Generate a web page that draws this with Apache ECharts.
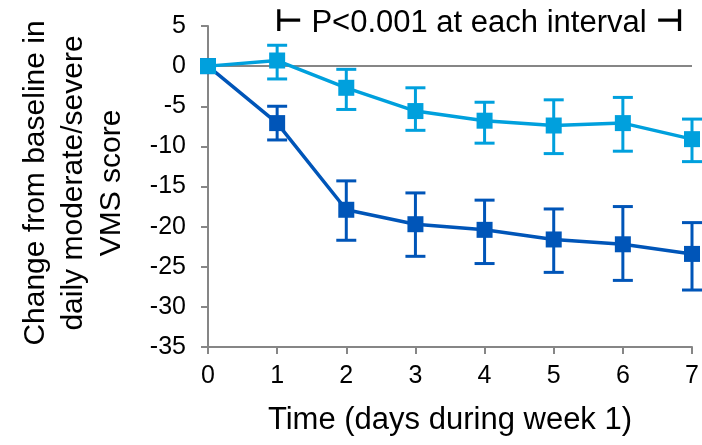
<!DOCTYPE html>
<html>
<head>
<meta charset="utf-8">
<script src="https://cdn.jsdelivr.net/npm/echarts@6/dist/echarts.min.js"></script>
<style>
html, body { margin: 0; padding: 0; background: #fff; }
#chart { width: 702px; height: 445px; }
</style>
</head>
<body>
<div id="chart"></div>
<script>
var days = [0, 1, 2, 3, 4, 5, 6, 7];
var yTicks = [-35, -30, -25, -20, -15, -10, -5, 0, 5];

// light blue group
var lightMean = [0, 0.7, -2.7, -5.6, -6.8, -7.4, -7.1, -9.1];
var lightHigh = [0, 2.6, -0.4, -2.7, -4.5, -4.2, -3.9, -6.6];
var lightLow = [0, -1.6, -5.4, -8.0, -9.6, -10.9, -10.6, -11.9];

// dark blue group
var darkMean = [0, -7.1, -17.9, -19.7, -20.4, -21.6, -22.2, -23.4];
var darkHigh = [0, -5.0, -14.3, -15.8, -16.7, -17.8, -17.5, -19.5];
var darkLow = [0, -9.2, -21.7, -23.7, -24.6, -25.7, -26.7, -27.9];

var lightColor = '#00a0dd';
var darkColor = '#0055b8';
var axisColor = '#868686';
var font = 'Liberation Sans, Arial, sans-serif';

function pairs(xs, ys) {
    var out = [];
    for (var i = 0; i < xs.length; i++) out.push([xs[i], ys[i]]);
    return out;
}
function errData(xs, lo, hi) {
    var out = [];
    for (var i = 1; i < xs.length; i++) out.push([xs[i], lo[i], hi[i]]);
    return out;
}
function errorBars(color) {
    return function (params, api) {
        var x = api.value(0);
        var lo = api.coord([x, api.value(1)]);
        var hi = api.coord([x, api.value(2)]);
        var half = 10;
        var style = { stroke: color, lineWidth: 3 };
        return {
            type: 'group',
            children: [
                { type: 'line', shape: { x1: lo[0], y1: lo[1], x2: hi[0], y2: hi[1] }, style: style },
                { type: 'line', shape: { x1: lo[0] - half, y1: lo[1], x2: lo[0] + half, y2: lo[1] }, style: style },
                { type: 'line', shape: { x1: hi[0] - half, y1: hi[1], x2: hi[0] + half, y2: hi[1] }, style: style }
            ]
        };
    };
}

var chart = echarts.init(document.getElementById('chart'), null, { renderer: 'canvas' });
chart.setOption({
    animation: false,
    textStyle: { fontFamily: font },
    grid: { left: 208, right: 10, top: 26, bottom: 98 },
    xAxis: {
        type: 'value',
        min: days[0],
        max: days[days.length - 1],
        interval: 1,
        name: 'Time (days during week 1)',
        nameLocation: 'middle',
        nameGap: 58,
        nameTextStyle: { fontSize: 31, color: '#000', fontFamily: font },
        axisLine: { onZero: false, lineStyle: { color: axisColor, width: 2 } },
        axisTick: { show: true, length: 7, lineStyle: { color: axisColor, width: 2 } },
        axisLabel: { fontSize: 25, color: '#000', margin: 17, fontFamily: font },
        splitLine: { show: false }
    },
    yAxis: {
        type: 'value',
        min: yTicks[0],
        max: yTicks[yTicks.length - 1],
        interval: 5,
        axisLine: { show: true, lineStyle: { color: axisColor, width: 2 } },
        axisTick: { show: true, length: 7, lineStyle: { color: axisColor, width: 2 } },
        axisLabel: { fontSize: 25, color: '#000', margin: 22, fontFamily: font },
        splitLine: { show: false }
    },
    graphic: [
        {
            type: 'text',
            x: 74,
            y: 183,
            rotation: Math.PI / 2,
            style: {
                text: 'Change from baseline in\ndaily moderate/severe\nVMS score',
                font: '30px ' + font,
                fill: '#000',
                align: 'center',
                verticalAlign: 'middle',
                lineHeight: 38
            }
        },
        {
            type: 'text',
            x: 479,
            y: 23,
            style: {
                text: '{b|\u22a2} P<0.001 at each interval {b|\u22a3}',
                font: '31px ' + font,
                fill: '#000',
                align: 'center',
                verticalAlign: 'middle',
                rich: {
                    b: { fontSize: 31, fontWeight: 'bold', fontFamily: 'DejaVu Sans', fill: '#000' }
                }
            }
        }
    ],
    series: [
        {
            type: 'line',
            data: [],
            silent: true,
            markLine: {
                silent: true,
                symbol: 'none',
                label: { show: false },
                lineStyle: { color: axisColor, width: 2, type: 'solid' },
                data: [{ yAxis: 0 }]
            }
        },
        {
            type: 'custom',
            renderItem: errorBars(darkColor),
            data: errData(days, darkLow, darkHigh),
            z: 3
        },
        {
            type: 'line',
            data: pairs(days, darkMean),
            symbol: 'rect',
            symbolSize: 16,
            itemStyle: { color: darkColor },
            lineStyle: { color: darkColor, width: 3.5 },
            z: 4
        },
        {
            type: 'custom',
            renderItem: errorBars(lightColor),
            data: errData(days, lightLow, lightHigh),
            z: 5
        },
        {
            type: 'line',
            data: pairs(days, lightMean),
            symbol: 'rect',
            symbolSize: 16,
            itemStyle: { color: lightColor },
            lineStyle: { color: lightColor, width: 3.5 },
            z: 6
        }
    ]
});
</script>
</body>
</html>
